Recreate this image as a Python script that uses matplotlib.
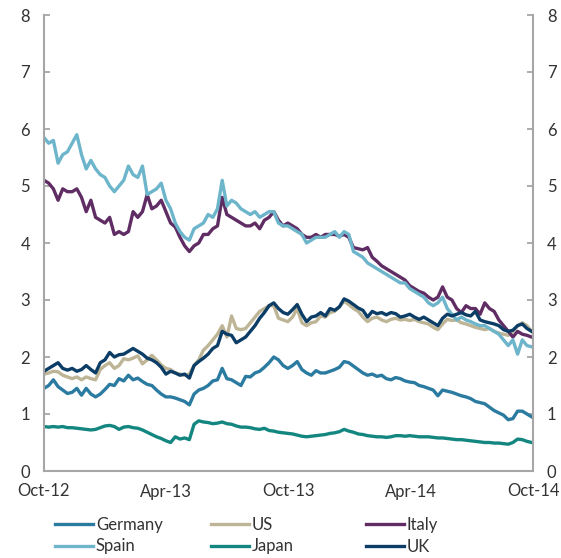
import matplotlib
matplotlib.use("Agg")
import matplotlib.pyplot as plt
import pandas as pd

plt.rcParams['font.family'] = ['Lato', 'DejaVu Sans']

weeks = pd.date_range("2012-10-01", periods=105, freq="7D")

germany = [1.45, 1.5, 1.6, 1.48, 1.42, 1.36, 1.38, 1.45, 1.33, 1.45, 1.35, 1.3, 1.35, 1.43, 1.52, 1.5,
           1.62, 1.58, 1.68, 1.6, 1.63, 1.57, 1.52, 1.5, 1.42, 1.35, 1.3, 1.3, 1.28, 1.25, 1.22, 1.16,
           1.35, 1.42, 1.45, 1.5, 1.58, 1.6, 1.8, 1.62, 1.6, 1.55, 1.5, 1.66, 1.65, 1.72, 1.75, 1.82,
           1.9, 2.0, 1.95, 1.85, 1.8, 1.85, 1.92, 1.78, 1.72, 1.68, 1.76, 1.72, 1.72, 1.75, 1.78, 1.82,
           1.92, 1.9, 1.84, 1.78, 1.72, 1.68, 1.7, 1.66, 1.68, 1.62, 1.6, 1.64, 1.62, 1.58, 1.56, 1.55,
           1.5, 1.48, 1.45, 1.42, 1.32, 1.42, 1.4, 1.38, 1.35, 1.32, 1.3, 1.27, 1.22, 1.2, 1.18, 1.12,
           1.06, 1.02, 0.98, 0.9, 0.92, 1.05, 1.05, 1.0, 0.95]

us = [1.7, 1.72, 1.75, 1.74, 1.68, 1.65, 1.62, 1.65, 1.6, 1.65, 1.62, 1.6, 1.78, 1.85, 1.9, 1.8,
      1.85, 1.97, 1.95, 1.98, 2.02, 1.88, 1.95, 2.03, 1.95, 1.86, 1.8, 1.78, 1.72, 1.7, 1.68, 1.7,
      1.85, 1.95, 2.12, 2.2, 2.3, 2.4, 2.55, 2.35, 2.72, 2.5, 2.48, 2.5, 2.6, 2.7, 2.8, 2.85,
      2.9, 2.9, 2.68, 2.65, 2.62, 2.7, 2.85, 2.6, 2.55, 2.6, 2.62, 2.72, 2.7, 2.78, 2.8, 2.88,
      2.98, 2.92, 2.85, 2.8, 2.7, 2.62, 2.68, 2.7, 2.65, 2.62, 2.66, 2.68, 2.65, 2.66, 2.64, 2.66,
      2.62, 2.6, 2.58, 2.52, 2.48, 2.58, 2.66, 2.64, 2.65, 2.6, 2.58, 2.55, 2.52, 2.5, 2.48, 2.5,
      2.45, 2.42, 2.4, 2.38, 2.45, 2.55, 2.6, 2.55, 2.45]

italy = [5.1, 5.05, 4.95, 4.75, 4.95, 4.9, 4.9, 4.95, 4.8, 4.55, 4.75, 4.45, 4.4, 4.35, 4.45, 4.15,
         4.2, 4.15, 4.2, 4.55, 4.45, 4.55, 4.85, 4.6, 4.65, 4.75, 4.55, 4.35, 4.28, 4.1, 3.95, 3.85,
         3.95, 4.0, 4.15, 4.15, 4.25, 4.3, 4.8, 4.5, 4.45, 4.4, 4.35, 4.3, 4.3, 4.35, 4.25, 4.4,
         4.45, 4.55, 4.4, 4.3, 4.35, 4.3, 4.25, 4.15, 4.1, 4.1, 4.15, 4.1, 4.15, 4.15, 4.15, 4.12,
         4.15, 4.1, 3.92, 3.9, 3.88, 3.92, 3.75, 3.68, 3.6, 3.55, 3.5, 3.45, 3.4, 3.35, 3.25, 3.2,
         3.15, 3.12, 3.05, 3.0, 3.05, 3.23, 3.05, 3.0, 2.85, 2.78, 2.9, 2.85, 2.85, 2.75, 2.95, 2.85,
         2.8, 2.65, 2.55, 2.45, 2.35, 2.45, 2.4, 2.38, 2.35]

spain = [5.85, 5.75, 5.8, 5.4, 5.55, 5.6, 5.75, 5.9, 5.55, 5.3, 5.45, 5.3, 5.2, 5.15, 5.0, 4.9,
         5.0, 5.1, 5.35, 5.2, 5.15, 5.35, 4.85, 4.9, 4.95, 5.05, 4.75, 4.6, 4.35, 4.2, 4.1, 4.05,
         4.25, 4.3, 4.35, 4.5, 4.45, 4.6, 5.1, 4.65, 4.75, 4.7, 4.6, 4.55, 4.5, 4.55, 4.45, 4.5,
         4.55, 4.55, 4.35, 4.3, 4.3, 4.25, 4.2, 4.15, 4.0, 4.05, 4.1, 4.1, 4.1, 4.15, 4.2, 4.1,
         4.2, 4.15, 3.85, 3.8, 3.75, 3.65, 3.6, 3.55, 3.5, 3.45, 3.4, 3.35, 3.3, 3.3, 3.2, 3.15,
         3.1, 3.05, 2.95, 2.9, 2.95, 3.05, 2.85, 2.75, 2.65, 2.7, 2.65, 2.62, 2.58, 2.55, 2.55, 2.5,
         2.45, 2.4, 2.3, 2.2, 2.3, 2.05, 2.3, 2.2, 2.18]

japan = [0.78, 0.77, 0.78, 0.77, 0.78, 0.76, 0.76, 0.75, 0.74, 0.73, 0.72, 0.73, 0.76, 0.79, 0.8, 0.78,
         0.73, 0.77, 0.78, 0.76, 0.75, 0.72, 0.68, 0.64, 0.6, 0.57, 0.53, 0.5, 0.6, 0.56, 0.58, 0.55,
         0.82, 0.88, 0.86, 0.85, 0.83, 0.84, 0.86, 0.83, 0.82, 0.79, 0.77, 0.77, 0.76, 0.74, 0.73, 0.75,
         0.71, 0.7, 0.68, 0.67, 0.66, 0.65, 0.63, 0.61, 0.6, 0.61, 0.62, 0.63, 0.64, 0.66, 0.67, 0.69,
         0.73, 0.7, 0.68, 0.65, 0.64, 0.62, 0.61, 0.6, 0.6, 0.59, 0.6, 0.62, 0.62, 0.61, 0.62, 0.61,
         0.6, 0.6, 0.6, 0.59, 0.58, 0.58, 0.57, 0.56, 0.55, 0.55, 0.54, 0.53, 0.52, 0.51, 0.5, 0.5,
         0.49, 0.49, 0.48, 0.47, 0.5, 0.56, 0.55, 0.52, 0.5]

uk = [1.75, 1.8, 1.85, 1.9, 1.8, 1.77, 1.8, 1.75, 1.78, 1.85, 1.78, 1.72, 1.9, 1.95, 2.08, 2.0,
      2.04, 2.05, 2.1, 2.15, 2.1, 2.05, 1.98, 1.95, 1.9, 1.82, 1.7, 1.75, 1.72, 1.68, 1.7, 1.63,
      1.85, 1.92, 1.98, 2.05, 2.15, 2.2, 2.45, 2.4, 2.38, 2.25, 2.3, 2.35, 2.45, 2.55, 2.68, 2.78,
      2.9, 2.95, 2.85, 2.78, 2.75, 2.83, 2.92, 2.75, 2.62, 2.7, 2.72, 2.78, 2.72, 2.85, 2.82, 2.88,
      3.02, 2.98, 2.92, 2.86, 2.82, 2.7, 2.8, 2.76, 2.78, 2.74, 2.78, 2.76, 2.7, 2.72, 2.75, 2.7,
      2.66, 2.7, 2.65, 2.6, 2.55, 2.68, 2.75, 2.72, 2.75, 2.78, 2.74, 2.72, 2.8, 2.65, 2.62, 2.6,
      2.58, 2.55, 2.48, 2.45, 2.47, 2.55, 2.58, 2.5, 2.45]

series_names = ["Germany", "US", "Italy", "Spain", "Japan", "UK"]
series_values = [germany, us, italy, spain, japan, uk]
series_colors = ["#2b7ba1", "#bdb596", "#5f2d64", "#6db5cb", "#138680", "#0c3d66"]

tick_dates = ["2012-10-01", "2013-04-01", "2013-10-01", "2014-04-01", "2014-10-01"]
tick_labels = ["Oct-12", "Apr-13", "Oct-13", "Apr-14", "Oct-14"]
y_ticks = [0, 1, 2, 3, 4, 5, 6, 7, 8]

fig = plt.figure(figsize=(5.61, 5.58), dpi=100)
ax = fig.add_axes([44/561, 87/558, (533-44)/561, (471-15)/558])

handles = {}
for name, vals, col in zip(series_names, series_values, series_colors):
    ln, = ax.plot(weeks, vals, color=col, lw=2.4, solid_joinstyle='round', label=name)
    handles[name] = ln

ax.set_xlim(pd.Timestamp(tick_dates[0]), pd.Timestamp(tick_dates[-1]))
ax.set_ylim(0, 8)
ax.set_yticks(y_ticks)
ax.set_xticks([pd.Timestamp(d) for d in tick_dates])
ax.set_xticklabels(tick_labels)

gray = "#a6a6a6"
for s in ["left", "right", "bottom"]:
    ax.spines[s].set_color(gray)
    ax.spines[s].set_linewidth(1.5)
ax.spines["top"].set_visible(False)

ax.tick_params(axis='y', which='both', direction='in', length=4, width=1.3, color=gray,
               left=True, right=True, labelleft=True, labelright=True,
               labelsize=12, labelcolor="#333333", pad=10)
ax.tick_params(axis='x', length=0, labelsize=12, labelcolor="#333333", pad=9)

# legend: three fixed-width columns
groups = [["Germany", "Spain"], ["US", "Japan"], ["Italy", "UK"]]
col_x = [55/561, 211/561, 366/561]
for gx, grp in zip(col_x, groups):
    fig.legend([handles[n] for n in grp], grp, loc='upper left',
               bbox_to_anchor=(gx, 1 - 517/558), frameon=False, fontsize=12,
               handlelength=2.3, handletextpad=0.15, labelspacing=0.33,
               borderpad=0, borderaxespad=0, labelcolor="#333333")

fig.savefig("out.png", dpi=100)
